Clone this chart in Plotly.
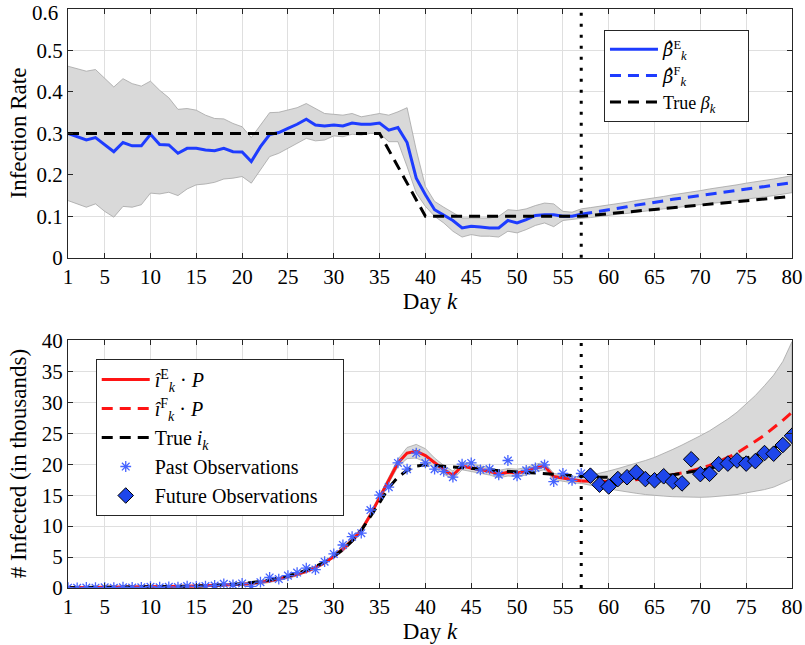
import plotly.graph_objects as go

# ---------------- data: top panel (infection rate) ----------------
days_all = list(range(1, 81))
days_est = list(range(1, 58))      # estimation period 1..57
days_fc = list(range(57, 81))      # forecast period 57..80
days_obs_fut = list(range(58, 81))

beta_E = [0.300, 0.292, 0.284, 0.290, 0.272, 0.256, 0.278, 0.270, 0.270, 0.298,
          0.273, 0.272, 0.252, 0.264, 0.264, 0.260, 0.258, 0.264, 0.256, 0.255,
          0.232, 0.268, 0.297, 0.302, 0.312, 0.322, 0.334, 0.320, 0.318, 0.320,
          0.318, 0.325, 0.322, 0.322, 0.325, 0.308, 0.314, 0.278, 0.192, 0.152,
          0.116, 0.104, 0.090, 0.072, 0.076, 0.074, 0.072, 0.072, 0.090, 0.084,
          0.092, 0.102, 0.104, 0.104, 0.100, 0.100, 0.105]
beta_F = [0.105, 0.108, 0.112, 0.116, 0.119, 0.123, 0.127, 0.130, 0.134, 0.137,
          0.141, 0.144, 0.148, 0.151, 0.154, 0.157, 0.160, 0.163, 0.166, 0.169,
          0.172, 0.175, 0.178, 0.181]
beta_true_days = [1, 35, 40, 57, 80]
beta_true_vals = [0.30, 0.30, 0.10, 0.10, 0.148]
beta_upper = [0.462, 0.456, 0.450, 0.454, 0.432, 0.412, 0.432, 0.420, 0.414, 0.426,
              0.404, 0.386, 0.358, 0.360, 0.356, 0.344, 0.336, 0.335, 0.324, 0.316,
              0.290, 0.320, 0.350, 0.351, 0.356, 0.362, 0.372, 0.360, 0.348, 0.346,
              0.344, 0.348, 0.340, 0.344, 0.348, 0.344, 0.352, 0.362, 0.260, 0.172,
              0.136, 0.122, 0.108, 0.096, 0.096, 0.096, 0.096, 0.100, 0.116, 0.114,
              0.118, 0.126, 0.132, 0.130, 0.112, 0.110,
              0.118, 0.121, 0.124, 0.127, 0.131, 0.134, 0.138, 0.141, 0.145, 0.148,
              0.152, 0.155, 0.159, 0.162, 0.166, 0.169, 0.173, 0.176, 0.180, 0.183,
              0.187, 0.190, 0.194, 0.198]
beta_lower = [0.138, 0.130, 0.122, 0.130, 0.112, 0.098, 0.124, 0.122, 0.128, 0.156,
              0.154, 0.158, 0.150, 0.166, 0.176, 0.178, 0.182, 0.190, 0.192, 0.196,
              0.180, 0.212, 0.244, 0.252, 0.264, 0.276, 0.288, 0.282, 0.284, 0.294,
              0.292, 0.298, 0.296, 0.300, 0.300, 0.280, 0.280, 0.220, 0.156, 0.124,
              0.100, 0.084, 0.064, 0.050, 0.056, 0.052, 0.052, 0.050, 0.064, 0.060,
              0.068, 0.078, 0.084, 0.075, 0.090, 0.092,
              0.095, 0.097, 0.100, 0.102, 0.105, 0.107, 0.110, 0.112, 0.115, 0.118,
              0.120, 0.123, 0.125, 0.128, 0.131, 0.133, 0.136, 0.139, 0.141, 0.144,
              0.147, 0.150, 0.153, 0.157]

# ---------------- data: bottom panel (infected, thousands) ----------------
inf_E = [0.05, 0.06, 0.07, 0.08, 0.09, 0.10, 0.11, 0.13, 0.15, 0.17,
         0.19, 0.21, 0.24, 0.27, 0.31, 0.35, 0.40, 0.46, 0.53, 0.62,
         0.73, 0.90, 1.15, 1.45, 1.80, 2.20, 2.70, 3.30, 4.10, 5.10,
         6.30, 7.70, 9.30, 11.8, 14.6, 17.4, 20.2, 21.8, 22.1, 21.4,
         20.2, 19.1, 18.2, 19.7, 19.4, 19.1, 18.85, 18.4, 18.7, 18.6,
         18.85, 19.4, 19.7, 18.0, 17.8, 17.5, 17.3]
inf_F = [17.3, 17.25, 17.2, 17.2, 17.25, 17.35, 17.45, 17.6, 17.8, 18.0,
         18.3, 18.6, 18.9, 19.3, 19.8, 20.4, 21.1, 21.8, 22.7, 23.7,
         24.7, 25.85, 27.1, 28.4]
inf_true = [0.05, 0.06, 0.07, 0.08, 0.09, 0.10, 0.11, 0.13, 0.15, 0.17,
            0.19, 0.21, 0.24, 0.27, 0.31, 0.36, 0.42, 0.50, 0.60, 0.72,
            0.86, 1.05, 1.30, 1.60, 1.95, 2.35, 2.85, 3.45, 4.20, 5.10,
            6.20, 7.60, 9.30, 11.5, 13.8, 16.2, 17.9, 19.0, 19.7, 19.9,
            19.8, 19.7, 19.6, 19.5, 19.35, 19.2, 19.1, 18.95, 18.85, 18.75,
            18.65, 18.55, 18.4, 18.3, 18.2, 18.1, 18.0, 18.0, 17.9, 17.9,
            17.8, 17.8, 17.8, 17.9, 17.9, 18.1, 18.3, 18.5, 18.7, 19.0,
            19.3, 19.7, 20.1, 20.5, 20.9, 21.4, 22.0, 22.6, 23.4, 24.5]
obs_past = [0.05, 0.03, 0.08, 0.05, 0.10, 0.04, 0.12, 0.08, 0.10, 0.20,
            0.12, 0.18, 0.15, 0.30, 0.25, 0.30, 0.40, 0.67, 0.52, 0.73,
            0.25, 0.94, 1.70, 1.45, 2.00, 2.50, 3.20, 2.98, 4.25, 5.50,
            6.95, 8.30, 8.85, 12.6, 15.0, 16.3, 20.2, 19.2, 21.8, 20.2,
            19.2, 18.85, 17.9, 20.0, 20.2, 19.1, 19.2, 18.3, 20.6, 18.1,
            19.0, 19.4, 19.9, 17.2, 18.5, 17.4, 18.5]
obs_future = [18.15, 16.7, 16.4, 17.6, 17.9, 18.7, 17.6, 17.4, 18.05, 17.2,
              16.9, 20.8, 18.4, 18.45, 20.0, 20.1, 20.6, 20.1, 20.5, 21.8,
              21.7, 23.1, 24.6]
inf_upper = [0.20, 0.21, 0.22, 0.23, 0.24, 0.25, 0.26, 0.28, 0.30, 0.32,
             0.34, 0.36, 0.39, 0.42, 0.46, 0.50, 0.55, 0.61, 0.68, 0.77,
             0.98, 1.15, 1.40, 1.70, 2.05, 2.45, 2.95, 3.55, 4.35, 5.35,
             6.70, 8.10, 9.70, 12.2, 15.0, 17.9, 20.8, 22.7, 23.2, 22.5,
             21.0, 19.8, 18.9, 20.3, 20.0, 19.7, 19.45, 19.0, 19.3, 19.2,
             19.45, 20.0, 20.3, 18.5, 18.3, 18.0,
             17.9, 18.2, 18.5, 18.9, 19.3, 19.7, 20.1, 20.6, 21.1, 21.7,
             22.4, 23.1, 23.8, 24.6, 25.4, 26.3, 27.3, 28.4, 29.7, 31.1,
             32.7, 34.4, 36.6, 39.8]
inf_lower = [0.0, 0.0, 0.0, 0.0, 0.0, 0.0, 0.0, 0.0, 0.0, 0.02,
             0.04, 0.06, 0.09, 0.12, 0.16, 0.20, 0.25, 0.31, 0.38, 0.47,
             0.48, 0.65, 0.90, 1.20, 1.55, 1.95, 2.45, 3.05, 3.85, 4.85,
             5.90, 7.30, 8.90, 11.4, 14.2, 16.9, 19.6, 20.9, 21.0, 20.3,
             19.4, 18.4, 17.5, 19.1, 18.8, 18.5, 18.25, 17.8, 18.1, 18.0,
             18.25, 18.8, 19.1, 17.5, 17.3, 17.0,
             16.9, 16.6, 16.3, 16.0, 15.75, 15.5, 15.3, 15.1, 14.95, 14.85,
             14.75, 14.68, 14.65, 14.65, 14.7, 14.8, 14.95, 15.1, 15.3, 15.6,
             15.9, 16.3, 16.9, 17.6]

x_ticks = [1, 5, 10, 15, 20, 25, 30, 35, 40, 45, 50, 55, 60, 65, 70, 75, 80]
beta_ticks = [0, 0.1, 0.2, 0.3, 0.4, 0.5, 0.6]
beta_tick_text = ["0", "0.1", "0.2", "0.3", "0.4", "0.5", "0.6"]
inf_ticks = [0, 5, 10, 15, 20, 25, 30, 35, 40]
split_day = 57

# ---------------- styling ----------------
FONT = "Liberation Serif"
BLUE = "rgb(30,60,255)"
STAR = "rgb(70,100,255)"
RED = "rgb(255,20,20)"
BAND = "rgb(217,217,217)"
BAND_EDGE = "rgb(165,165,165)"
AX = "#262626"
GRID = "#dfdfdf"
DASH = "11px,7px"
HAT_BETA = "<span style='font-family:DejaVu Serif'><i>β\u0302</i></span>"
PAD = "\u00a0" * 6

fig = go.Figure()

# top panel
fig.add_trace(go.Scatter(x=days_all + days_all[::-1], y=beta_upper + beta_lower[::-1],
                         fill="toself", fillcolor=BAND, line=dict(color=BAND_EDGE, width=0.8),
                         showlegend=False, hoverinfo="skip", xaxis="x", yaxis="y"))
fig.add_trace(go.Scatter(x=days_est, y=beta_E, mode="lines", line=dict(color=BLUE, width=3),
                         name=HAT_BETA + "<sup>E</sup><sub><i>k</i></sub>", legend="legend",
                         xaxis="x", yaxis="y"))
fig.add_trace(go.Scatter(x=days_fc, y=beta_F, mode="lines",
                         line=dict(color=BLUE, width=3, dash=DASH),
                         name=HAT_BETA + "<sup>F</sup><sub><i>k</i></sub>", legend="legend",
                         xaxis="x", yaxis="y"))
fig.add_trace(go.Scatter(x=beta_true_days, y=beta_true_vals, mode="lines",
                         line=dict(color="black", width=3, dash=DASH),
                         name="True <i>β<sub>k</sub></i>" + PAD, legend="legend",
                         xaxis="x", yaxis="y"))

# bottom panel
fig.add_trace(go.Scatter(x=days_all + days_all[::-1], y=inf_upper + inf_lower[::-1],
                         fill="toself", fillcolor=BAND, line=dict(color=BAND_EDGE, width=0.8),
                         showlegend=False, hoverinfo="skip", xaxis="x2", yaxis="y2"))
fig.add_trace(go.Scatter(x=days_est, y=inf_E, mode="lines", line=dict(color=RED, width=3),
                         name="<i>î</i><sup>E</sup><sub><i>k</i></sub> · <i>P</i>", legend="legend2",
                         xaxis="x2", yaxis="y2"))
fig.add_trace(go.Scatter(x=days_fc, y=inf_F, mode="lines",
                         line=dict(color=RED, width=3, dash=DASH),
                         name="<i>î</i><sup>F</sup><sub><i>k</i></sub> · <i>P</i>", legend="legend2",
                         xaxis="x2", yaxis="y2"))
fig.add_trace(go.Scatter(x=days_all, y=inf_true, mode="lines",
                         line=dict(color="black", width=3, dash=DASH),
                         name="True <i>i<sub>k</sub></i>", legend="legend2",
                         xaxis="x2", yaxis="y2"))
fig.add_trace(go.Scatter(x=days_est, y=obs_past, mode="markers",
                         marker=dict(symbol="asterisk-open", size=9, color=STAR,
                                     line=dict(color=STAR, width=1.3)),
                         name="Past Observations", legend="legend2",
                         xaxis="x2", yaxis="y2"))
fig.add_trace(go.Scatter(x=days_obs_fut, y=obs_future, mode="markers",
                         marker=dict(symbol="diamond", size=12, color="rgb(30,70,235)",
                                     line=dict(color="black", width=1)),
                         name="Future Observations" + "\u00a0" * 4, legend="legend2",
                         xaxis="x2", yaxis="y2"))

# vertical split lines
for xr, yref in (("x", "y domain"), ("x2", "y2 domain")):
    fig.add_shape(type="line", xref=xr, yref=yref, x0=split_day, x1=split_day, y0=0, y1=1,
                  line=dict(color="black", width=3, dash="3px,8px"))

axis_common = dict(showline=True, linecolor=AX, linewidth=1, mirror="ticks",
                   ticks="inside", ticklen=5, tickcolor=AX, showgrid=True,
                   gridcolor=GRID, gridwidth=1, zeroline=False, automargin=False,
                   tickfont=dict(family=FONT, size=21, color="black"))

legend_common = dict(xanchor="left", yanchor="top", bgcolor="white", bordercolor=AX,
                     borderwidth=1, itemwidth=48, tracegroupgap=0)

fig.update_layout(
    width=805, height=645,
    margin=dict(l=68, r=13, t=9, b=56.5, autoexpand=False),
    paper_bgcolor="white", plot_bgcolor="white",
    font=dict(family=FONT, size=20, color="black"),
    xaxis=dict(domain=[0, 1], range=[1, 80], tickvals=x_ticks, anchor="y",
               title=dict(text="Day <i>k</i>", font=dict(family=FONT, size=23), standoff=2),
               **axis_common),
    yaxis=dict(domain=[0.5703, 1.0], range=[0, 0.6], tickvals=beta_ticks,
               ticktext=beta_tick_text, anchor="x", **axis_common),
    xaxis2=dict(domain=[0, 1], range=[1, 80], tickvals=x_ticks, anchor="y2",
                title=dict(text="Day <i>k</i>", font=dict(family=FONT, size=23), standoff=2),
                **axis_common),
    yaxis2=dict(domain=[0, 0.4276], range=[0, 40], tickvals=inf_ticks, anchor="x2",
                **axis_common),
    legend=dict(x=0.7403, y=0.9638, font=dict(family=FONT, size=18), **legend_common),
    legend2=dict(x=0.0383, y=0.3955, font=dict(family=FONT, size=20), **legend_common),
    annotations=[
        dict(text=beta_tick_text[-1], xref="paper", yref="y", x=-0.0105, y=beta_ticks[-1],
             showarrow=False, font=dict(family=FONT, size=21), xanchor="right",
             yanchor="middle", yshift=-4),
        dict(text="Infection Rate", xref="paper", yref="paper", x=-0.069, y=0.785,
             textangle=-90, showarrow=False, font=dict(family=FONT, size=23),
             xanchor="center", yanchor="middle"),
        dict(text="# Infected (in thousands)", xref="paper", yref="paper", x=-0.069, y=0.2138,
             textangle=-90, showarrow=False, font=dict(family=FONT, size=23),
             xanchor="center", yanchor="middle"),
    ],
)

fig.write_html("out.html", config={"displayModeBar": False},
               post_script="document.body.style.margin='0';")
